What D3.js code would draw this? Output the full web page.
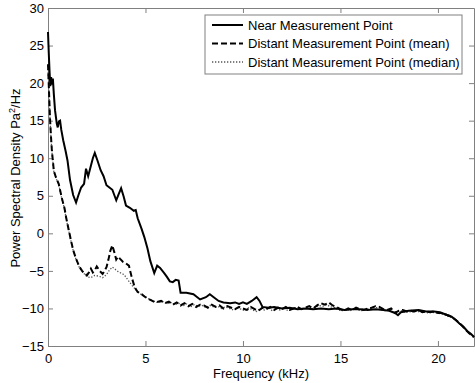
<!DOCTYPE html>
<html>
<head>
<meta charset="utf-8">
<script src="https://cdn.jsdelivr.net/npm/d3@7"></script>
<style>
  body { margin: 0; background: #fff; }
  svg { display: block; font-family: "Liberation Sans", Arial, sans-serif; }
</style>
</head>
<body>
<svg id="chart" width="475" height="383"></svg>
<script>
// frequency in kHz, PSD in dB re Pa^2/Hz
const xTicks = [0, 5, 10, 15, 20];
const yTicks = [-15, -10, -5, 0, 5, 10, 15, 20, 25, 30];
const seriesNames = ["Near Measurement Point", "Distant Measurement Point (mean)", "Distant Measurement Point (median)"];

const nearPoints = [[0,26.8],[0.04,24],[0.08,21.5],[0.12,19.6],[0.16,20.8],[0.2,19.8],[0.25,20.6],[0.3,18.5],[0.36,16.4],[0.45,14.6],[0.5,14.1],[0.56,14.9],[0.62,15.0],[0.68,13.8],[0.78,12.4],[0.9,11.0],[1.0,9.7],[1.13,7.1],[1.29,5.1],[1.44,4.1],[1.55,5.0],[1.7,6.1],[1.85,6.6],[1.95,8.6],[2.06,7.6],[2.2,9.0],[2.3,10.0],[2.4,10.7],[2.55,9.6],[2.7,8.4],[2.85,7.6],[3.0,6.4],[3.15,6.1],[3.3,5.8],[3.5,4.4],[3.62,5.2],[3.75,6.0],[3.88,4.9],[4.0,3.7],[4.2,3.4],[4.4,3.0],[4.5,3.1],[4.6,2.0],[4.8,0.6],[4.94,-0.5],[5.1,-2.0],[5.25,-3.7],[5.45,-5.3],[5.6,-4.3],[5.75,-4.6],[5.96,-5.3],[6.1,-5.8],[6.25,-6.4],[6.4,-6.5],[6.55,-6.2],[6.7,-6.3],[6.8,-7.9],[7.1,-7.9],[7.46,-8.1],[7.8,-8.8],[8.1,-8.5],[8.3,-8.1],[8.5,-8.5],[8.75,-9.0],[9.0,-9.2],[9.35,-9.3],[9.6,-9.2],[9.8,-9.4],[10.0,-9.2],[10.2,-9.4],[10.45,-9.0],[10.7,-8.5],[10.85,-9.0],[11.0,-9.8],[11.3,-9.9],[11.6,-9.8],[12.0,-10.0],[12.4,-9.9],[12.8,-10.1],[13.2,-10.0],[13.6,-10.1],[14.0,-10.0],[14.4,-10.1],[14.8,-10.0],[15.2,-10.2],[15.6,-10.1],[16.0,-10.1],[16.4,-10.2],[16.8,-10.1],[17.2,-10.2],[17.5,-10.3],[17.8,-10.6],[17.95,-10.9],[18.1,-10.5],[18.5,-10.3],[19.0,-10.2],[19.4,-10.4],[19.8,-10.4],[20.1,-10.5],[20.4,-10.8],[20.7,-11.1],[20.9,-11.5],[21.1,-12.0],[21.3,-12.4],[21.5,-13.0],[21.7,-13.4],[21.85,-13.8]];

const meanPoints = [[0,22.5],[0.05,19],[0.1,15.5],[0.15,13],[0.2,11],[0.3,8.3],[0.4,7.5],[0.55,6.6],[0.7,4.8],[0.85,3.3],[0.93,2.1],[1.05,0.6],[1.2,-1.2],[1.3,-2.3],[1.44,-3.4],[1.6,-4.4],[1.75,-5.0],[1.9,-5.4],[2.0,-5.6],[2.1,-5.2],[2.2,-4.7],[2.3,-5.2],[2.4,-4.9],[2.5,-4.4],[2.65,-5.0],[2.8,-5.4],[2.9,-5.0],[3.0,-4.5],[3.1,-3.5],[3.2,-2.3],[3.3,-1.6],[3.4,-2.5],[3.5,-3.5],[3.6,-3.1],[3.7,-3.4],[3.85,-3.8],[4.0,-4.0],[4.15,-4.3],[4.3,-5.9],[4.45,-7.2],[4.6,-7.8],[4.8,-8.1],[5.0,-8.5],[5.2,-8.8],[5.5,-9.2],[5.8,-9.0],[6.0,-9.3],[6.2,-9.1],[6.4,-9.5],[6.6,-9.2],[6.8,-9.6],[7.0,-9.3],[7.2,-9.7],[7.4,-9.4],[7.6,-9.8],[7.8,-9.5],[8.0,-9.6],[8.2,-9.9],[8.4,-9.5],[8.6,-9.8],[8.8,-9.6],[9.0,-10.0],[9.2,-9.7],[9.4,-9.9],[9.6,-10.1],[9.8,-9.8],[10.0,-10.0],[10.2,-10.2],[10.4,-9.8],[10.6,-10.1],[10.8,-10.3],[11.0,-9.9],[11.2,-10.1],[11.4,-9.8],[11.6,-10.2],[11.8,-9.9],[12.0,-10.1],[12.2,-9.8],[12.4,-10.2],[12.6,-10.0],[12.8,-9.8],[13.0,-10.1],[13.2,-9.9],[13.4,-9.7],[13.6,-10.0],[13.8,-9.6],[14.0,-9.3],[14.2,-9.5],[14.4,-9.2],[14.6,-9.6],[14.8,-9.8],[15.0,-10.1],[15.2,-10.3],[15.4,-10.0],[15.6,-10.2],[15.8,-9.9],[16.0,-10.1],[16.2,-10.2],[16.4,-10.0],[16.6,-9.9],[16.8,-9.7],[17.0,-9.8],[17.2,-10.1],[17.4,-10.2],[17.6,-10.0],[17.8,-10.6],[18.0,-10.3],[18.2,-10.2],[18.4,-10.4],[18.6,-10.3],[18.8,-10.4],[19.0,-10.2],[19.2,-10.5],[19.4,-10.4],[19.6,-10.5],[19.8,-10.4],[20.0,-10.6],[20.2,-10.6],[20.4,-10.8],[20.6,-11.0],[20.8,-11.3],[21.0,-11.7],[21.2,-12.2],[21.4,-12.8],[21.6,-13.3],[21.85,-13.8]];

const medianPoints = [[0,22.3],[0.05,18.8],[0.1,15.4],[0.15,12.9],[0.2,10.9],[0.3,8.2],[0.4,7.4],[0.55,6.5],[0.7,4.7],[0.85,3.2],[0.93,2.0],[1.05,0.5],[1.2,-1.3],[1.3,-2.4],[1.44,-3.5],[1.6,-4.5],[1.75,-5.1],[1.9,-5.5],[2.0,-5.8],[2.2,-5.9],[2.4,-5.6],[2.6,-5.7],[2.8,-5.9],[3.0,-5.5],[3.15,-4.9],[3.3,-4.5],[3.45,-4.8],[3.6,-5.1],[3.75,-5.3],[3.9,-5.5],[4.1,-6.2],[4.3,-6.9],[4.5,-7.5],[4.7,-8.0],[5.0,-8.5],[5.3,-8.9],[5.6,-9.2],[5.9,-9.1],[6.1,-9.4],[6.3,-9.2],[6.5,-9.5],[6.7,-9.3],[6.9,-9.7],[7.1,-9.4],[7.3,-9.8],[7.5,-9.5],[7.7,-9.7],[7.9,-9.6],[8.1,-9.9],[8.3,-9.6],[8.5,-9.8],[8.7,-9.7],[8.9,-10.0],[9.1,-9.8],[9.3,-10.0],[9.5,-10.2],[9.7,-9.9],[9.9,-10.1],[10.1,-10.3],[10.3,-9.9],[10.5,-10.2],[10.7,-10.4],[10.9,-10.0],[11.1,-10.2],[11.3,-9.9],[11.5,-10.3],[11.7,-10.0],[11.9,-10.2],[12.1,-9.9],[12.3,-10.3],[12.5,-10.1],[12.7,-9.9],[12.9,-10.2],[13.1,-10.0],[13.3,-9.9],[13.5,-10.1],[13.7,-9.8],[13.9,-9.6],[14.1,-9.7],[14.3,-9.5],[14.5,-9.8],[14.7,-9.9],[14.9,-10.2],[15.1,-10.3],[15.3,-10.1],[15.5,-10.3],[15.7,-10.0],[15.9,-10.2],[16.1,-10.3],[16.3,-10.1],[16.5,-10.0],[16.7,-9.9],[16.9,-9.9],[17.1,-10.2],[17.3,-10.3],[17.5,-10.1],[17.7,-10.5],[17.9,-10.4],[18.1,-10.3],[18.3,-10.5],[18.5,-10.4],[18.7,-10.5],[18.9,-10.3],[19.1,-10.5],[19.3,-10.5],[19.5,-10.6],[19.7,-10.5],[19.9,-10.6],[20.1,-10.7],[20.3,-10.8],[20.5,-11.0],[20.7,-11.2],[20.9,-11.5],[21.1,-12.0],[21.3,-12.5],[21.5,-13.0],[21.7,-13.5],[21.85,-13.9]];

const svg = d3.select("#chart");
const plotLeft = 48, plotRight = 474, plotTop = 8, plotBottom = 346;

let x = d3.scaleLinear().domain([0, 21.85]).range([plotLeft, plotRight]);
let y = d3.scaleLinear().domain([-15, 30]).range([plotBottom, plotTop]);

const axisColor = "#808080";

// Axes (ticks point inward, mirrored on top/right)
let xAxisB = d3.axisBottom(x).tickValues(xTicks).tickSize(-5).tickPadding(8).tickSizeOuter(0);
let xAxisT = d3.axisTop(x).tickValues(xTicks).tickSize(-5).tickFormat("").tickSizeOuter(0);
let yAxisL = d3.axisLeft(y).tickValues(yTicks).tickSize(-5).tickPadding(4).tickSizeOuter(0);
let yAxisR = d3.axisRight(y).tickValues(yTicks).tickSize(-5).tickFormat("").tickSizeOuter(0);

function styleAxis(g) {
  g.selectAll("path").attr("stroke", axisColor);
  g.selectAll("line").attr("stroke", axisColor);
  g.selectAll("text").attr("fill", "#000").style("font-size", "13px")
   .style("font-family", "'Liberation Sans', Arial, sans-serif");
}

svg.append("g").attr("transform", `translate(0,${plotBottom})`).call(xAxisB).call(styleAxis);
svg.append("g").attr("transform", `translate(0,${plotTop})`).call(xAxisT).call(styleAxis);
svg.append("g").attr("transform", `translate(${plotLeft},0)`).call(yAxisL).call(styleAxis);
svg.append("g").attr("transform", `translate(${plotRight},0)`).call(yAxisR).call(styleAxis);

let line = d3.line().x(d => x(d[0])).y(d => y(d[1]));

svg.append("path").datum(medianPoints)
  .attr("d", line).attr("fill", "none")
  .attr("stroke", "#555").attr("stroke-width", 1.3).attr("stroke-dasharray", "1.3,1.7");

svg.append("path").datum(meanPoints)
  .attr("d", line).attr("fill", "none")
  .attr("stroke", "#000").attr("stroke-width", 2).attr("stroke-dasharray", "6,3");

svg.append("path").datum(nearPoints)
  .attr("d", line).attr("fill", "none")
  .attr("stroke", "#000").attr("stroke-width", 2);

// axis labels
svg.append("text")
  .attr("x", (plotLeft + plotRight) / 2).attr("y", 378)
  .attr("text-anchor", "middle").style("font-size", "13px")
  .text("Frequency (kHz)");

let yLab = svg.append("text")
  .attr("transform", "translate(20,178) rotate(-90)")
  .attr("text-anchor", "middle").style("font-size", "13px");
yLab.append("tspan").text("Power Spectral Density Pa");
yLab.append("tspan").attr("dy", -5).style("font-size", "9px").text("2");
yLab.append("tspan").attr("dy", 5).text("/Hz");

// legend
let legend = svg.append("g");
legend.append("rect")
  .attr("x", 205).attr("y", 15).attr("width", 257).attr("height", 59)
  .attr("fill", "#fff").attr("stroke", axisColor);

const legendStyles = [
  { stroke: "#000", width: 2, dash: null },
  { stroke: "#000", width: 2, dash: "6,3" },
  { stroke: "#555", width: 1.3, dash: "1.3,1.7" }
];

seriesNames.forEach((name, i) => {
  let ly = 25 + i * 18.5;
  legend.append("line")
    .attr("x1", 212).attr("x2", 243).attr("y1", ly).attr("y2", ly)
    .attr("stroke", legendStyles[i].stroke)
    .attr("stroke-width", legendStyles[i].width)
    .attr("stroke-dasharray", legendStyles[i].dash);
  legend.append("text")
    .attr("x", 248).attr("y", ly + 4.5)
    .style("font-size", "13px")
    .text(name);
});
</script>
</body>
</html>
